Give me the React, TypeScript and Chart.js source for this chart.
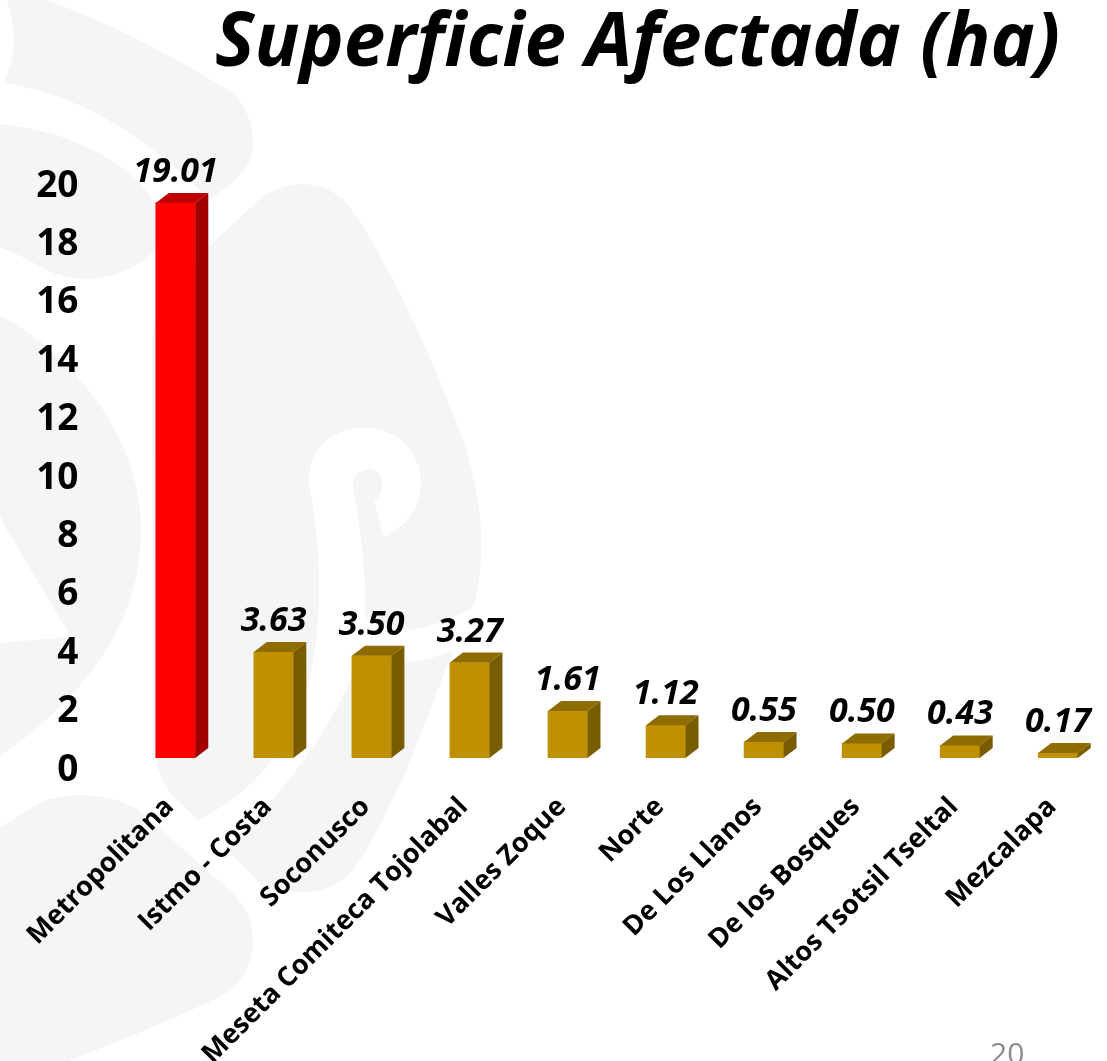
import React, { useEffect, useRef } from "react";
import { Chart, registerables } from "chart.js";

Chart.register(...registerables);

const categories = [
  "Metropolitana",
  "Istmo - Costa",
  "Soconusco",
  "Meseta Comiteca Tojolabal",
  "Valles Zoque",
  "Norte",
  "De Los Llanos",
  "De los Bosques",
  "Altos Tsotsil Tseltal",
  "Mezcalapa",
];
const values = [19.01, 3.63, 3.5, 3.27, 1.61, 1.12, 0.55, 0.5, 0.43, 0.17];
const frontColors = ["#ff0000", ...Array(9).fill("#bf9000")];
const topColors = ["#c00000", ...Array(9).fill("#8f6c00")];
const sideColors = ["#a00000", ...Array(9).fill("#7a5c00")];

const FONT = "'Open Sans'";
const DEPTH_X = 13;
const DEPTH_Y = 10;

const watermark = [
  "M7 0C16 28 18 55 3 83C70 92 140 130 203 193L203 203C240 180 255 165 253 138C252 118 242 100 228 90C170 55 110 22 45 0Z",
  "M0 124C60 130 125 155 155 203L155 250C135 270 110 279 86 279C70 279 55 275 41 267C25 258 12 252 0 247Z",
  "M0 316C50 340 141 420 141 530C141 600 110 680 0 756L0 643L71 637L7 530L0 515Z",
  "M198 820L172 795C160 780 153 760 153 735L152 340C152 310 180 270 210 245L259 200C275 187 290 184 300 184C320 184 340 192 352 210C400 280 445 390 466 448C478 490 483 530 481 555C480 580 476 600 472 609C450 618 425 630 407 630C390 632 375 625 365 616C366 580 362 530 353 490C351 480 358 469 369 469C386 469 385 497 374 500L384 538C405 525 421 510 421 483C421 455 400 428 365 428C335 428 309 445 309 483C316 520 320 560 319 599C318 640 312 675 303 702C290 740 260 790 198 820Z",
  "M359 658C375 662 395 665 402 663C420 662 440 656 452 650L448 664C430 710 415 750 403 778C385 815 365 860 345 878C330 890 315 892 303 892C285 892 270 890 262 885L224 847C270 810 335 730 359 658Z",
  "M0 828L41 802C55 796 70 795 83 795C100 795 120 800 138 809L228 889C245 905 253 920 253 940C253 960 245 980 228 992C175 1020 120 1040 69 1061L0 1061Z",
];

const bars3d = {
  id: "bars3d",
  afterDatasetsDraw(chart: any) {
    const { ctx } = chart;
    const meta = chart.getDatasetMeta(0);
    meta.data.forEach((bar: any, i: number) => {
      const left = bar.x - bar.width / 2;
      const right = bar.x + bar.width / 2;
      const top = bar.y;
      const base = bar.base;
      ctx.save();
      ctx.fillStyle = topColors[i];
      ctx.beginPath();
      ctx.moveTo(left, top);
      ctx.lineTo(left + DEPTH_X, top - DEPTH_Y);
      ctx.lineTo(right + DEPTH_X, top - DEPTH_Y);
      ctx.lineTo(right, top);
      ctx.closePath();
      ctx.fill();
      ctx.fillStyle = sideColors[i];
      ctx.beginPath();
      ctx.moveTo(right, top);
      ctx.lineTo(right + DEPTH_X, top - DEPTH_Y);
      ctx.lineTo(right + DEPTH_X, base - DEPTH_Y);
      ctx.lineTo(right, base);
      ctx.closePath();
      ctx.fill();
      ctx.fillStyle = "#000000";
      ctx.font = `italic bold 34px ${FONT}`;
      ctx.textAlign = "center";
      ctx.textBaseline = "alphabetic";
      ctx.fillText(values[i].toFixed(2), bar.x, top - 21);
      ctx.restore();
    });
  },
};

const titleShift = {
  id: "titleShift",
  afterLayout(chart: any) {
    if (chart.titleBlock) chart.titleBlock.right = 1060;
  },
};

export default function App() {
  const ref = useRef<HTMLCanvasElement>(null);
  useEffect(() => {
    const chart = new Chart(ref.current as HTMLCanvasElement, {
      type: "bar",
      data: {
        labels: categories,
        datasets: [
          {
            label: "Superficie Afectada (ha)",
            data: values,
            backgroundColor: frontColors,
            barThickness: 39.5,
            borderWidth: 0,
          },
        ],
      },
      options: {
        animation: false,
        responsive: false,
        layout: { padding: 0 },
        plugins: {
          legend: { display: false },
          tooltip: { enabled: false },
          title: {
            display: true,
            text: "Superficie Afectada (ha)",
            align: "end",
            color: "#000000",
            font: { family: FONT, size: 74.5, weight: "bold", style: "italic", lineHeight: 1 },
            padding: { top: 8, bottom: 91.5 },
          },
        },
        scales: {
          x: {
            afterFit(scale: any) {
              scale.height = 303;
              scale.paddingLeft = 0;
              scale.paddingRight = 0;
            },
            grid: { display: false, drawTicks: false },
            border: { display: false },
            ticks: {
              autoSkip: false,
              minRotation: 45,
              maxRotation: 45,
              color: "#000000",
              padding: 33,
              labelOffset: -6,
              font: { family: FONT, size: 27, weight: "bold" },
            },
          },
          y: {
            min: 0,
            max: 20,
            afterFit(scale: any) {
              scale.width = 126.5;
              scale.paddingTop = 0;
              scale.paddingBottom = 0;
            },
            grid: { display: false, drawTicks: false },
            border: { display: false },
            ticks: {
              stepSize: 2,
              color: "#000000",
              padding: 48,
              labelOffset: 12,
              font: { family: FONT, size: 37, weight: "bold" },
            },
          },
        },
      },
      plugins: [bars3d, titleShift],
    } as any);
    return () => chart.destroy();
  }, []);

  return (
    <div style={{ position: "absolute", left: 0, top: 0, width: 1107, height: 1061, overflow: "hidden", background: "#ffffff" }}>
      <svg width={1107} height={1061} style={{ position: "absolute", left: 0, top: 0 }}>
        {watermark.map((d, i) => (
          <path key={i} d={d} fill="#f4f5f7" />
        ))}
      </svg>
      <canvas ref={ref} width={1107} height={1061} style={{ position: "absolute", left: 0, top: 0 }} />
      <div style={{ position: "absolute", left: 990, top: 1034, font: `30px ${FONT}`, color: "#8c8c8c", lineHeight: "38px" }}>20</div>
    </div>
  );
}
